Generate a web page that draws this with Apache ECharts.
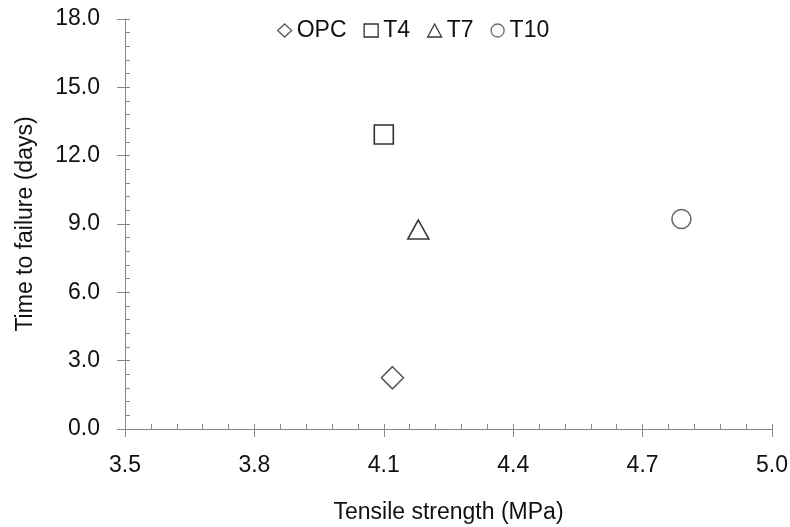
<!DOCTYPE html>
<html>
<head>
<meta charset="utf-8">
<script src="https://cdn.jsdelivr.net/npm/echarts@6/dist/echarts.min.js"></script>
<style>
html,body{margin:0;padding:0;background:#fff;}
#chart{width:790px;height:527px;}
</style>
</head>
<body>
<div id="chart"></div>
<script>
var seriesNames = ['OPC', 'T4', 'T7', 'T10'];
var tensileStrength = [4.12, 4.10, 4.18, 4.79];
var timeToFailure = [2.25, 12.93, 8.76, 9.22];
var xTicks = [3.5, 3.8, 4.1, 4.4, 4.7, 5.0];
var yTicks = [0, 3, 6, 9, 12, 15, 18];

var symbols = ['diamond', 'rect', 'triangle', 'circle'];
var symbolSizes = [[22, 22], [19, 19], [21, 19], [19, 19]];
var strokeColors = ['#5a5a5a', '#303030', '#383838', '#6a6a6a'];

var FONT = 'Liberation Sans, Arial, sans-serif';
var AX = '#888888';
var FS = 23;

var chart = echarts.init(document.getElementById('chart'), null, {renderer: 'canvas'});

var series = seriesNames.map(function (n, i) {
  return {
    name: n,
    type: 'scatter',
    xAxisIndex: 0,
    yAxisIndex: 0,
    symbol: symbols[i],
    symbolSize: symbolSizes[i],
    itemStyle: {color: '#ffffff', borderColor: strokeColors[i], borderWidth: 1.6, opacity: 1},
    emphasis: {disabled: true},
    data: [[tensileStrength[i], timeToFailure[i]]]
  };
});

function xAxisBase() {
  return {
    type: 'value', min: xTicks[0], max: xTicks[xTicks.length - 1], interval: 0.3,
    position: 'bottom', splitLine: {show: false}
  };
}
function yAxisBase() {
  return {
    type: 'value', min: yTicks[0], max: yTicks[yTicks.length - 1], interval: 3,
    position: 'left', splitLine: {show: false}
  };
}

var x0 = xAxisBase();
x0.axisLine = {show: true, lineStyle: {color: AX, width: 1}};
x0.axisTick = {show: true, inside: false, length: 8, lineStyle: {color: AX}};
x0.axisLabel = {show: true, margin: 25, color: '#111', fontFamily: FONT, fontSize: FS,
  formatter: function (v) { return v.toFixed(1); }};
x0.name = 'Tensile strength (MPa)';
x0.nameLocation = 'middle';
x0.nameGap = 72;
x0.nameTextStyle = {color: '#111', fontFamily: FONT, fontSize: FS};

var x1 = xAxisBase();
x1.axisLine = {show: false};
x1.axisLabel = {show: false};
x1.axisTick = {show: true, inside: true, length: 5, lineStyle: {color: AX}};
x1.minorTick = {show: true, splitNumber: 5, length: 5, lineStyle: {color: AX}};

var y0 = yAxisBase();
y0.axisLine = {show: true, lineStyle: {color: AX, width: 1}};
y0.axisTick = {show: true, inside: false, length: 8, lineStyle: {color: AX}};
y0.axisLabel = {show: true, margin: 25, color: '#111', fontFamily: FONT, fontSize: FS,
  formatter: function (v) { return v.toFixed(1); }};
y0.name = 'Time to failure (days)';
y0.nameLocation = 'middle';
y0.nameGap = 88;
y0.nameTextStyle = {color: '#111', fontFamily: FONT, fontSize: FS};

var y1 = yAxisBase();
y1.axisLine = {show: false};
y1.axisLabel = {show: false};
y1.axisTick = {show: true, inside: true, length: 5, lineStyle: {color: AX}};
y1.minorTick = {show: true, splitNumber: 5, length: 5, lineStyle: {color: AX}};

chart.setOption({
  animation: false,
  backgroundColor: '#ffffff',
  grid: {left: 125, right: 18, top: 19, bottom: 98, containLabel: false, outerBoundsMode: 'none'},
  legend: {
    left: 272, top: 14,
    itemWidth: 14, itemHeight: 13, itemGap: 17,
    textStyle: {color: '#111', fontFamily: FONT, fontSize: FS},
    data: seriesNames.map(function (n, i) {
      return {name: n, icon: symbols[i],
        itemStyle: {color: '#ffffff', borderColor: strokeColors[i], borderWidth: 1.3}};
    })
  },
  xAxis: [x0, x1],
  yAxis: [y0, y1],
  series: series
});
</script>
</body>
</html>
